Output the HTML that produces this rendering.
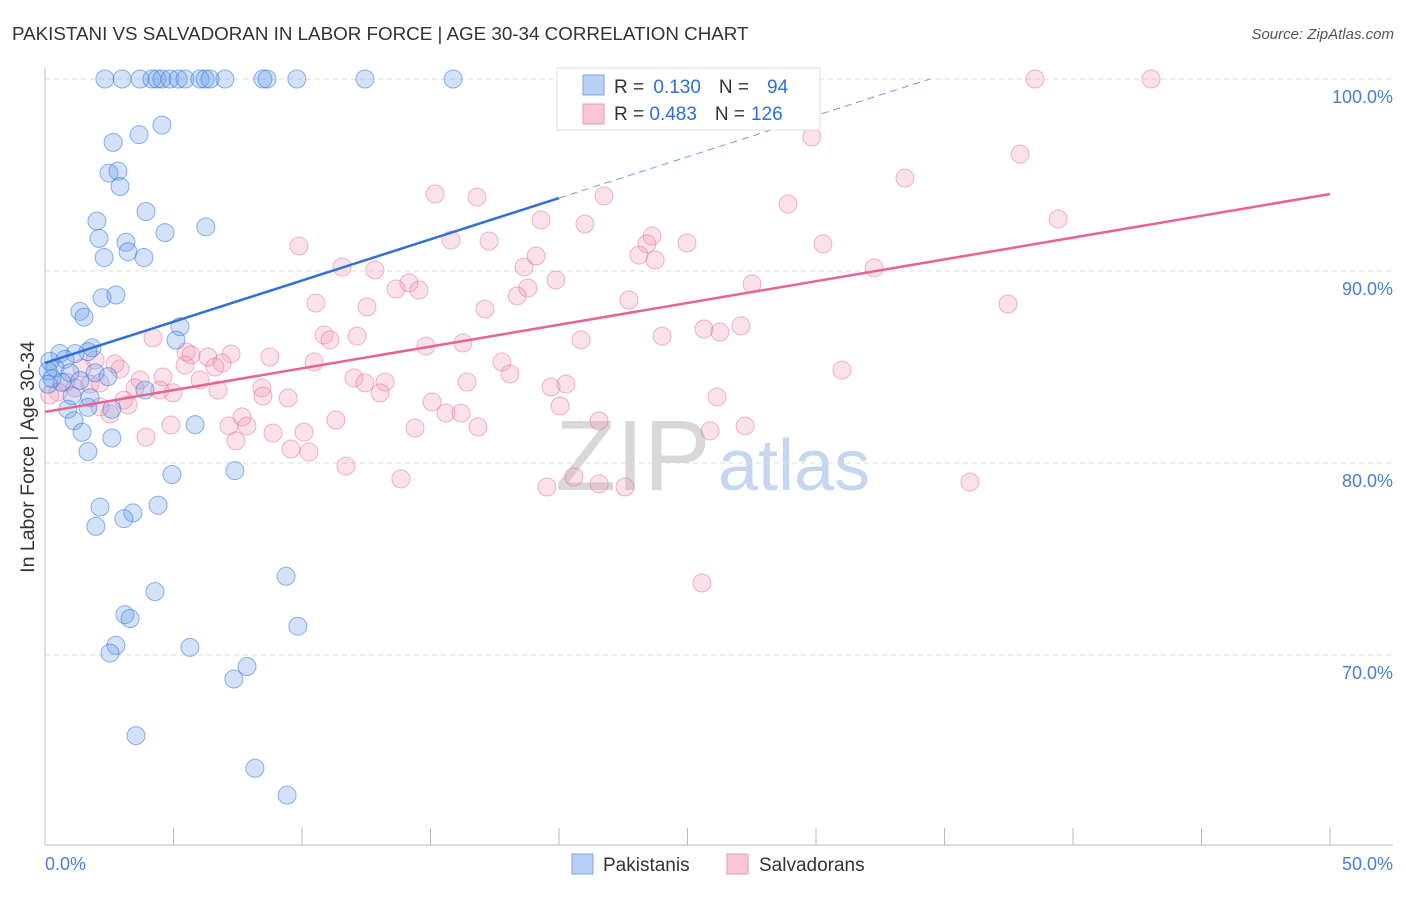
<!DOCTYPE html>
<html><head><meta charset="utf-8"><style>
body{margin:0;background:#fff;font-family:"Liberation Sans",sans-serif;}
svg text{font-family:"Liberation Sans",sans-serif;}
</style></head><body>
<svg id="chart" width="1406" height="892" xmlns="http://www.w3.org/2000/svg">
<text x="12" y="40" font-size="18.8" fill="#333">PAKISTANI VS SALVADORAN IN LABOR FORCE | AGE 30-34 CORRELATION CHART</text>
<text x="1394" y="39" font-size="15" fill="#555" font-style="italic" text-anchor="end">Source: ZipAtlas.com</text>
<g>
<text x="555" y="490" font-size="100" font-family="Liberation Serif" fill="#d8d8d8">ZIP</text>
<text x="718" y="490" font-size="72" fill="#c5d7f0">atlas</text>
</g>
<g id="grid"></g>
<g id="axes"></g>
<g id="marks"></g>
<text transform="translate(34,457) rotate(-90)" font-size="19.5" fill="#333" text-anchor="middle">In Labor Force | Age 30-34</text>
<g>
<rect x="557" y="68" width="263" height="62" fill="#fff" stroke="#ddd"/>
<rect x="583" y="75" width="21" height="20" fill="#b8d0f4" stroke="#7aa6e6"/>
<rect x="583" y="104" width="21" height="20" fill="#f8c6d4" stroke="#ec9ab2"/>
<text x="614" y="93" font-size="19" fill="#333">R = <tspan fill="#2f6fd6" dx="4">0.130</tspan><tspan dx="18" fill="#333">N =</tspan><tspan fill="#2f6fd6" dx="18">94</tspan></text>
<text x="614" y="120" font-size="19" fill="#333">R = <tspan fill="#2f6fd6">0.483</tspan><tspan dx="18" fill="#333">N =</tspan><tspan fill="#2f6fd6" dx="6">126</tspan></text>
</g>
<g>
<rect x="572" y="854" width="21" height="20" fill="#b8d0f4" stroke="#7aa6e6"/>
<text x="603" y="871" font-size="19" fill="#333">Pakistanis</text>
<rect x="727" y="854" width="21" height="20" fill="#f8c6d4" stroke="#ec9ab2"/>
<text x="759" y="871" font-size="19" fill="#333">Salvadorans</text>
</g>
</svg>
<script>
const yTicks=[100,90,80,70];
const yTickLabels=["100.0%","90.0%","80.0%","70.0%"];
const xTicks=[0,5,10,15,20,25,30,35,40,45,50];
const xTickLabels=["0.0%","50.0%"];
const blueX=[2.33,3.0,3.7,4.16,4.36,4.55,4.86,5.18,5.45,6.03,6.23,6.42,7.0,8.48,8.64,9.8,12.45,15.88,2.65,3.66,4.55,2.49,2.84,2.92,3.93,2.02,2.1,3.15,2.3,3.23,3.85,4.67,6.26,1.36,1.52,2.22,2.76,5.25,5.1,1.83,1.67,0.58,1.17,0.78,0.19,0.39,0.97,1.95,2.45,0.27,0.66,1.36,3.89,1.05,1.75,0.89,1.67,1.13,2.6,5.84,1.44,2.6,1.67,4.94,7.39,2.14,3.42,3.07,1.98,4.4,4.28,9.38,3.11,3.31,2.76,2.53,5.64,9.84,7.86,7.35,3.54,8.17,9.42,0.12,0.12];
const blueY=[100,100,100,100,100,100,100,100,100,100,100,100,100,100,100,100,100,100,96.7,97.1,97.6,95.1,95.2,94.4,93.1,92.6,91.7,91.5,90.7,91.0,90.7,92.0,92.3,87.9,87.6,88.6,88.75,87.1,86.4,86.0,85.8,85.7,85.7,85.4,85.3,84.95,84.7,84.7,84.5,84.4,84.2,84.3,83.8,83.5,83.4,82.8,82.9,82.2,82.8,82.0,81.6,81.3,80.6,79.4,79.6,77.7,77.4,77.1,76.7,77.8,73.3,74.1,72.1,71.9,70.5,70.1,70.4,71.5,69.4,68.75,65.8,64.1,62.7,84.8,84.1];
const pinkX=[38.52,43.04,29.84,37.94,33.46,15.18,16.81,21.75,28.91,39.42,19.3,21.01,23.62,23.42,24.98,30.27,9.88,15.8,17.28,23.11,23.74,18.64,19.11,11.56,12.84,32.26,19.88,14.16,14.55,13.66,18.79,18.37,37.47,27.51,22.72,10.54,12.53,17.12,25.64,26.26,27.08,24.01,20.86,10.86,11.09,12.14,14.82,16.26,4.2,7.24,5.49,5.68,6.34,8.75,6.89,10.47,17.78,18.09,2.72,2.92,4.59,6.03,12.02,13.23,12.45,16.42,19.69,20.27,31.01,6.73,4.47,4.98,8.44,8.48,9.46,13.04,26.15,3.07,3.23,2.14,2.53,15.06,15.6,16.19,20.04,21.56,7.67,11.32,4.9,7.16,7.86,3.93,7.43,8.87,10.08,14.4,16.85,25.88,27.24,9.57,10.27,11.71,13.85,19.53,20.58,21.56,22.57,35.99,25.56,1.95,1.44,0.82,1.17,0.51,1.75,0.19,2.14,3.7,3.5,5.45,6.61];
const pinkY=[100,100,96.98,96.09,94.84,94.01,93.85,93.91,93.49,92.71,92.66,92.45,91.82,91.41,91.46,91.41,91.3,91.61,91.56,90.83,90.57,90.21,90.78,90.21,90.05,90.16,89.53,89.38,89.01,89.06,89.11,88.7,88.28,89.32,88.49,88.33,88.13,88.02,86.98,86.82,87.14,86.61,86.41,86.67,86.41,86.61,86.09,86.25,86.51,85.68,85.78,85.63,85.52,85.52,85.21,85.26,85.26,84.64,85.16,84.9,84.48,84.32,84.43,84.22,84.17,84.22,83.96,84.11,84.84,83.8,83.8,83.65,83.91,83.49,83.39,83.65,83.44,83.28,83.02,82.92,82.55,83.18,82.6,82.6,82.97,82.19,82.4,82.24,81.98,81.93,81.93,81.35,81.15,81.56,81.61,81.82,81.88,81.67,81.93,80.73,80.57,79.84,79.17,78.75,79.27,78.91,78.75,79.01,73.75,85.36,84.95,84.22,83.91,83.7,84.11,83.54,84.17,84.32,83.91,85.1,85.0];
const blueTrend=[85.21,93.8];
const pinkTrend=[82.66,94.01];
const NS="http://www.w3.org/2000/svg";
const X=v=>45+v*25.7;
const Y=v=>79+(100-v)*19.2;
function mk(tag,attrs,parent){const e=document.createElementNS(NS,tag);for(const k in attrs)e.setAttribute(k,attrs[k]);parent.appendChild(e);return e;}
const grid=document.getElementById('grid'),axes=document.getElementById('axes'),marks=document.getElementById('marks');
yTicks.forEach((t,i)=>{
 const l=mk('line',{x1:45,x2:1393,y1:Y(t),y2:Y(t),stroke:'#ddd','stroke-dasharray':'5,4'},grid);
 
 
 const tx=mk('text',{x:1393,y:Y(t)+24,'font-size':18,fill:'#4a7fd4','text-anchor':'end'},axes);
 tx.textContent=yTickLabels[i];
 
 
});
const ax=mk('line',{x1:45,x2:1393,y1:845,y2:845,stroke:'#bbb'},axes);


const ay=mk('line',{x1:45,x2:45,y1:68,y2:845,stroke:'#bbb'},axes);


xTicks.forEach(t=>{
 const l=mk('line',{x1:X(t),x2:X(t),y1:828,y2:845,stroke:'#bbb'},axes);
 
 
});
const xl0=mk('text',{x:45,y:870,'font-size':18,fill:'#4a7fd4'},axes);xl0.textContent=xTickLabels[0];


const xl1=mk('text',{x:1393,y:870,'font-size':18,fill:'#4a7fd4','text-anchor':'end'},axes);xl1.textContent=xTickLabels[1];


function pts(xs,ys,fill,stroke,name){xs.forEach((x,i)=>{
 const c=mk('circle',{cx:X(x),cy:Y(ys[i]),r:9,fill:fill,stroke:stroke,'stroke-width':1},marks);
 
 
});}
pts(pinkX,pinkY,'rgba(242,150,180,0.28)','rgba(228,110,150,0.5)','salvadoran-point');
pts(blueX,blueY,'rgba(110,160,232,0.3)','rgba(50,120,220,0.55)','pakistani-point');
const slopeB=(blueTrend[1]-blueTrend[0])/20;
const xEnd=(100-blueTrend[0])/slopeB;
const bl=mk('line',{x1:X(0),y1:Y(blueTrend[0]),x2:X(20),y2:Y(blueTrend[1]),stroke:'#2f6fd6','stroke-width':2.5},marks);


const bd=mk('line',{x1:X(20),y1:Y(blueTrend[1]),x2:X(xEnd),y2:Y(100),stroke:'#6f9be0','stroke-width':1,'stroke-dasharray':'7,5'},marks);


const pl=mk('line',{x1:X(0),y1:Y(pinkTrend[0]),x2:X(50),y2:Y(pinkTrend[1]),stroke:'#e8638f','stroke-width':2.5},marks);


</script>
</body></html>
